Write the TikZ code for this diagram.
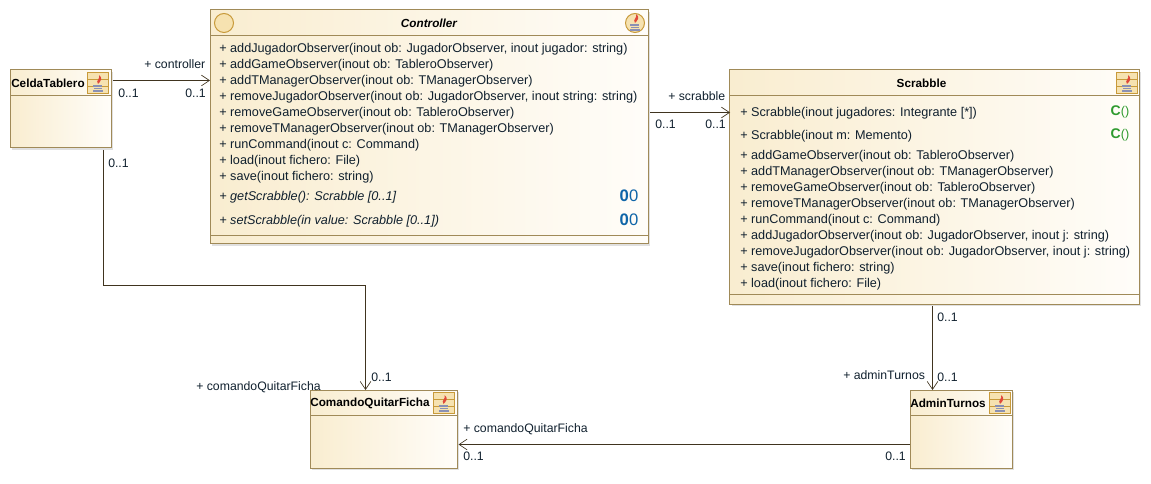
\documentclass[tikz,border=0pt]{standalone}
\usepackage{fontspec}
\setmainfont{Liberation Sans}
\usetikzlibrary{calc}
\usetikzlibrary{arrows.meta}
\usetikzlibrary{shadows}
\definecolor{edgetan}{HTML}{A08A58}
\definecolor{wiretan}{HTML}{40341F}
\definecolor{inktext}{HTML}{10202E}
\definecolor{opblue}{HTML}{0F65A8}
\definecolor{opgreen}{HTML}{2E9A2E}
\definecolor{boxleft}{HTML}{F9EDD0}
\definecolor{boxright}{HTML}{FFFDF9}
\definecolor{iconedge}{HTML}{C89A3A}
\definecolor{iconfill}{HTML}{F6E2B0}
\definecolor{flame}{HTML}{E0483A}
\definecolor{cup}{HTML}{8A90B4}
\newcommand{\javamark}[1]{%
\fill[flame] ($(#1)+(1,-8)$) .. controls ($(#1)+(3,-4)$) and ($(#1)+(-3,-3)$) .. ($(#1)+(0,1)$) .. controls ($(#1)+(3,-2)$) and ($(#1)+(5,-5)$) .. cycle;
\draw[cup,line width=0.8pt] ($(#1)+(-5,3)$) -- ($(#1)+(4,3)$) ($(#1)+(-4,5.5)$) -- ($(#1)+(4,5.5)$) ($(#1)+(-5,8)$) -- ($(#1)+(5,8)$);}
\newcommand{\javaicon}[1]{%
\draw[draw=iconedge,fill=iconfill,line width=0.75pt] ($(#1)+(-10.5,-10.5)$) rectangle ($(#1)+(10.5,10.5)$);
\draw[iconedge,line width=0.5pt] ($(#1)+(-10.5,-3.5)$) -- ($(#1)+(10.5,-3.5)$) ($(#1)+(-10.5,3.5)$) -- ($(#1)+(10.5,3.5)$);
\javamark{#1}}
\tikzset{
  classbox/.style={draw=edgetan,line width=0.75pt,left color=boxleft,right color=boxright,inner sep=0pt,
    drop shadow={shadow xshift=1.5pt,shadow yshift=-1.5pt,fill=black!12,opacity=1}},
  sepline/.style={draw=edgetan,line width=0.75pt},
  classname/.style={font=\fontsize{8.8}{10}\selectfont\bfseries,text=black,inner sep=0pt},
  oprow/.style={anchor=west,font=\fontsize{9.5}{11}\selectfont,text=inktext,inner sep=0pt,text height=8.5pt,text depth=2pt},
  endlabel/.style={oprow,font=\fontsize{9.2}{11}\selectfont},
  assoc/.style={draw=wiretan,line width=0.75pt,-{Straight Barb[length=6pt,width=8pt,line width=0.5pt]}},
  markblue/.style={font=\fontsize{12.5}{14}\selectfont,text=opblue,inner sep=0pt},
  markgreen/.style={font=\fontsize{10.5}{12}\selectfont,text=opgreen,inner sep=0pt}
}
\newcommand{\markzero}{{\bfseries 0}0}
\newcommand{\markctor}{{\bfseries C}{\fontsize{9.5}{10}\selectfont ()}}
\begin{document}
\begin{tikzpicture}[x=0.75pt,y=-0.75pt]
\useasboundingbox (0,0) rectangle (1151,484);

\node[classbox,minimum width=75.75pt,minimum height=58.5pt] (celda) at (60.5,109) {};
\node[classbox,minimum width=328.5pt,minimum height=175.5pt] (ctrl) at (429,127) {};
\node[classbox,minimum width=307pt,minimum height=175.5pt] (scrabble) at (934.5,187) {};
\node[classbox,minimum width=110.25pt,minimum height=58.5pt] (quitar) at (383.5,429) {};
\node[classbox,minimum width=76.5pt,minimum height=58.5pt] (admin) at (961,429) {};

\draw[sepline] (10,95.5) -- (111,95.5);
\draw[sepline] (210,35.5) -- (648,35.5);
\draw[sepline] (210,235.5) -- (648,235.5);
\draw[sepline] (730,95.5) -- (1139,95.5);
\draw[sepline] (730,294.5) -- (1139,294.5);
\draw[sepline] (310,415.5) -- (457,415.5);
\draw[sepline] (910,415.5) -- (1012,415.5);

\node[classname] (celdaname) at (48,83) {CeldaTablero};
\node[classname,font=\fontsize{8.8}{10}\selectfont\bfseries\itshape] (ctrlname) at (429,23) {Controller};
\node[classname] (scrabblename) at (921.5,83) {Scrabble};
\node[classname] (quitarname) at (370,403) {ComandoQuitarFicha};
\node[classname] (adminname) at (948,403) {AdminTurnos};

\javaicon{98,83}
\javaicon{443.5,403}
\javaicon{1000,403}
\javaicon{1127,83}
\draw[draw=iconedge,fill=iconfill,line width=0.75pt] (224,23) circle (9.5);
\draw[draw=iconedge,fill=iconfill,line width=0.75pt] (635,23) circle (9.5);
\javamark{635,22}

\node[oprow] (c1) at (219,48) {+ addJugadorObserver(inout ob: JugadorObserver, inout jugador: string)};
\node[oprow] (c2) at (219,64) {+ addGameObserver(inout ob: TableroObserver)};
\node[oprow] (c3) at (219,80) {+ addTManagerObserver(inout ob: TManagerObserver)};
\node[oprow] (c4) at (219,96) {+ removeJugadorObserver(inout ob: JugadorObserver, inout string: string)};
\node[oprow] (c5) at (219,112) {+ removeGameObserver(inout ob: TableroObserver)};
\node[oprow] (c6) at (219,128) {+ removeTManagerObserver(inout ob: TManagerObserver)};
\node[oprow] (c7) at (219,144) {+ runCommand(inout c: Command)};
\node[oprow] (c8) at (219,160) {+ load(inout fichero: File)};
\node[oprow] (c9) at (219,176) {+ save(inout fichero: string)};
\node[oprow,font=\fontsize{9.5}{11}\selectfont\itshape] (c10) at (219,196) {+ getScrabble(): Scrabble [0..1]};
\node[oprow,font=\fontsize{9.5}{11}\selectfont\itshape] (c11) at (219,220) {+ setScrabble(in value: Scrabble [0..1])};
\node[markblue] (c10mark) at (629,196) {\markzero};
\node[markblue] (c11mark) at (629,220) {\markzero};

\node[oprow] (s1) at (740,112) {+ Scrabble(inout jugadores: Integrante [*])};
\node[oprow] (s2) at (740,135) {+ Scrabble(inout m: Memento)};
\node[oprow] (s3) at (740,155) {+ addGameObserver(inout ob: TableroObserver)};
\node[oprow] (s4) at (740,171) {+ addTManagerObserver(inout ob: TManagerObserver)};
\node[oprow] (s5) at (740,187) {+ removeGameObserver(inout ob: TableroObserver)};
\node[oprow] (s6) at (740,203) {+ removeTManagerObserver(inout ob: TManagerObserver)};
\node[oprow] (s7) at (740,219) {+ runCommand(inout c: Command)};
\node[oprow] (s8) at (740,235) {+ addJugadorObserver(inout ob: JugadorObserver, inout j: string)};
\node[oprow] (s9) at (740,251) {+ removeJugadorObserver(inout ob: JugadorObserver, inout j: string)};
\node[oprow] (s10) at (740,267) {+ save(inout fichero: string)};
\node[oprow] (s11) at (740,283) {+ load(inout fichero: File)};
\node[markgreen] (s1mark) at (1120,112) {\markctor};
\node[markgreen] (s2mark) at (1120,135) {\markctor};

\coordinate (a1) at (113,80.5);
\coordinate (a2) at (210,80.5);
\coordinate (b1) at (650,112.5);
\coordinate (b2) at (730,112.5);
\coordinate (d1) at (103.5,150);
\coordinate (d2) at (103.5,285.5);
\coordinate (d3) at (365.5,390);
\coordinate (e1) at (932.5,306);
\coordinate (e2) at (932.5,390);
\coordinate (f1) at (910,444.5);
\coordinate (f2) at (458.5,444.5);

\draw[assoc] (a1) -- (a2);
\draw[assoc] (b1) -- (b2);
\draw[assoc] (d1) -- (d2) -| (d3);
\draw[assoc] (e1) -- (e2);
\draw[assoc] (f1) -- (f2);

\node[endlabel] (l1) at (144,64) {+ controller};
\node[endlabel] (l2) at (118,93) {0..1};
\node[endlabel] (l3) at (185,93) {0..1};
\node[endlabel] (l4) at (108,163) {0..1};
\node[endlabel] (l5) at (668,96) {+ scrabble};
\node[endlabel] (l6) at (655,124) {0..1};
\node[endlabel] (l7) at (705,124) {0..1};
\node[endlabel] (l8) at (937,317) {0..1};
\node[endlabel] (l9) at (937,377) {0..1};
\node[endlabel] (l10) at (843,375) {+ adminTurnos};
\node[endlabel] (l11) at (196,386) {+ comandoQuitarFicha};
\node[endlabel] (l12) at (371,377) {0..1};
\node[endlabel] (l13) at (463,428) {+ comandoQuitarFicha};
\node[endlabel] (l14) at (463,456) {0..1};
\node[endlabel] (l15) at (885,456) {0..1};
\end{tikzpicture}
\end{document}
